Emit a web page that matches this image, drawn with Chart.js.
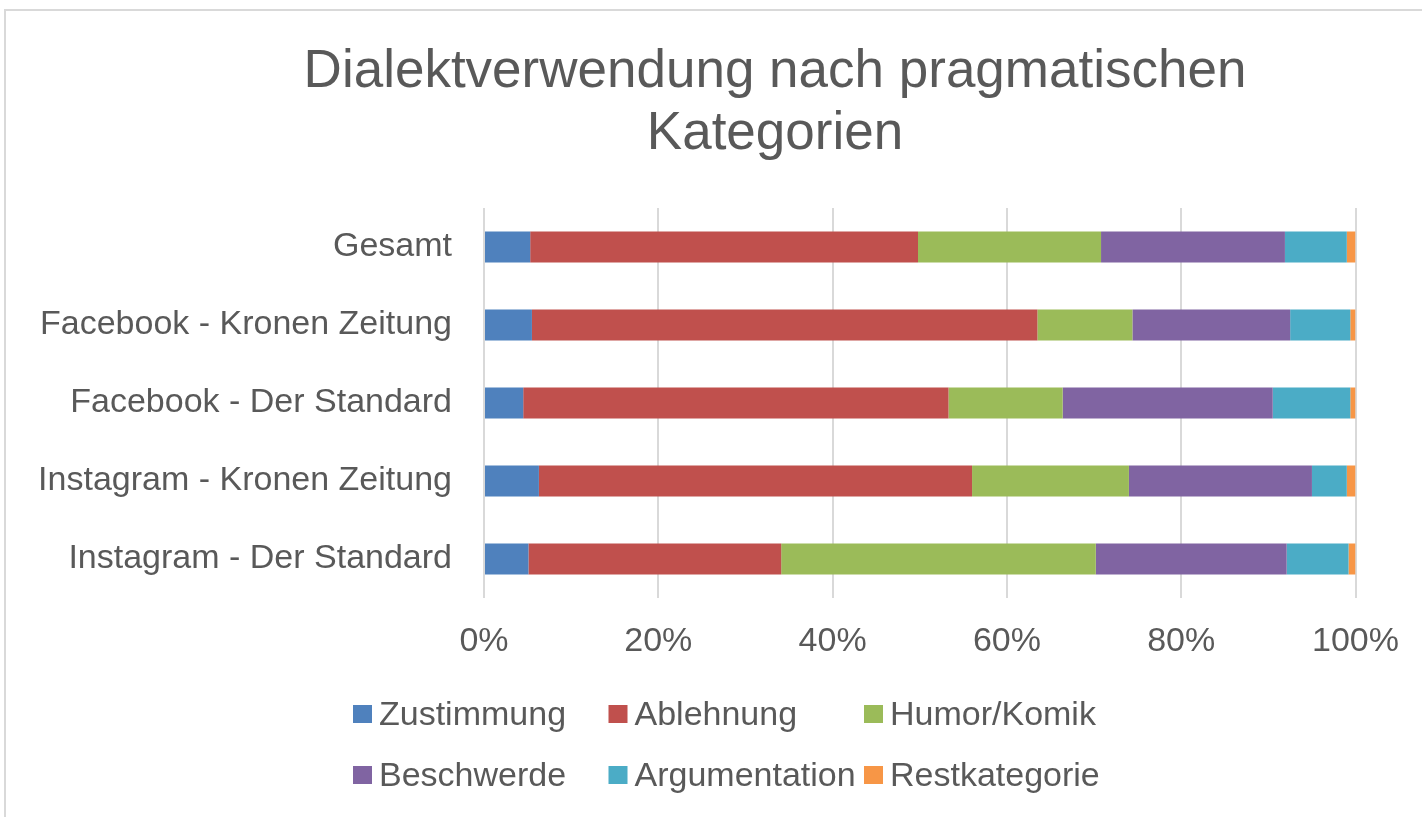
<!DOCTYPE html>
<html>
<head>
<meta charset="utf-8">
<script src="https://cdn.jsdelivr.net/npm/chart.js@4.4.1/dist/chart.umd.min.js"></script>
<style>
  html, body { margin: 0; padding: 0; background: #ffffff; overflow: hidden; }
  #frame { position: absolute; left: 4px; top: 9px; width: 1460px; height: 900px; border: 2px solid #d9d9d9; box-sizing: border-box; }
  #wrap { position: absolute; left: 0; top: 0; width: 1422px; height: 817px; }
</style>
</head>
<body>
<div id="frame"></div>
<div id="wrap"><canvas id="c" width="1422" height="817"></canvas></div>
<script>
const titleLines = ['Dialektverwendung nach pragmatischen', 'Kategorien'];
const categories = ['Gesamt', 'Facebook - Kronen Zeitung', 'Facebook - Der Standard', 'Instagram - Kronen Zeitung', 'Instagram - Der Standard'];
const seriesNames = ['Zustimmung', 'Ablehnung', 'Humor/Komik', 'Beschwerde', 'Argumentation', 'Restkategorie'];
const zustimmung    = [5.3, 5.5, 4.5, 6.3, 5.1];
const ablehnung     = [44.5, 58.0, 48.8, 49.7, 29.0];
const humorKomik    = [21.0, 10.9, 13.1, 18.0, 36.1];
const beschwerde    = [21.1, 18.1, 24.1, 21.0, 21.9];
const argumentation = [7.1, 6.9, 8.9, 4.0, 7.1];
const restkategorie = [1.0, 0.6, 0.6, 1.0, 0.8];
const xTickLabels = ['0%', '20%', '40%', '60%', '80%', '100%'];

const seriesValues = [zustimmung, ablehnung, humorKomik, beschwerde, argumentation, restkategorie];
const colors = ['#4F81BD', '#C0504D', '#9BBB59', '#8064A2', '#4BACC6', '#F79646'];
const textColor = '#595959';
const fontFamily = '"Liberation Sans", Arial, sans-serif';

// shift the title's horizontal centring so it sits where the original chart centred it
const titleShift = {
  id: 'titleShift',
  afterLayout(chart) {
    const tb = chart.titleBlock;
    if (tb) { tb.left = 193; tb.width = tb.right - tb.left; }
  }
};

const gridLegend = {
  id: 'gridLegend',
  afterDraw(chart) {
    const ctx = chart.ctx;
    ctx.save();
    ctx.font = '34px ' + fontFamily;
    ctx.textBaseline = 'middle';
    ctx.textAlign = 'left';
    chart.data.datasets.forEach((ds, i) => {
      const col = i % 3, row = Math.floor(i / 3);
      const x = 353 + col * 255.5;
      const y = 714 + row * 61;
      ctx.fillStyle = ds.backgroundColor;
      ctx.fillRect(x, y - 9, 19, 18);
      ctx.fillStyle = textColor;
      ctx.fillText(ds.label, x + 26, y + 2);
    });
    ctx.restore();
  }
};

new Chart(document.getElementById('c'), {
  type: 'bar',
  data: {
    labels: categories,
    datasets: seriesNames.map((name, i) => ({
      label: name,
      data: seriesValues[i],
      backgroundColor: colors[i],
      borderWidth: 0,
      categoryPercentage: 0.8,
      barPercentage: 0.5
    }))
  },
  options: {
    indexAxis: 'y',
    responsive: false,
    animation: false,
    devicePixelRatio: 1,
    layout: { padding: { left: 0, right: 65, top: 0, bottom: 157 } },
    plugins: {
      legend: { display: false },
      tooltip: { enabled: false },
      title: {
        display: true,
        text: titleLines,
        color: textColor,
        font: { family: fontFamily, size: 53, weight: 'normal', lineHeight: 1.17 },
        padding: { top: 41, bottom: 43 },
        align: 'center'
      }
    },
    scales: {
      x: {
        stacked: true,
        min: 0,
        max: 100,
        afterBuildTicks(scale) {
          scale.ticks = xTickLabels.map((t, i) => ({ value: i * 20 }));
        },
        afterFit(scale) { scale.height = 62; },
        ticks: {
          callback: (v, i) => xTickLabels[i],
          color: textColor,
          font: { family: fontFamily, size: 34 },
          padding: 23,
          maxRotation: 0
        },
        grid: { color: '#d9d9d9', lineWidth: 2, drawTicks: false },
        border: { display: false }
      },
      y: {
        stacked: true,
        afterFit(scale) { scale.width = 484; },
        ticks: {
          color: textColor,
          font: { family: fontFamily, size: 34 },
          padding: 32
        },
        grid: { display: false, drawTicks: false },
        border: { display: false }
      }
    }
  },
  plugins: [titleShift, gridLegend]
});
</script>
</body>
</html>
